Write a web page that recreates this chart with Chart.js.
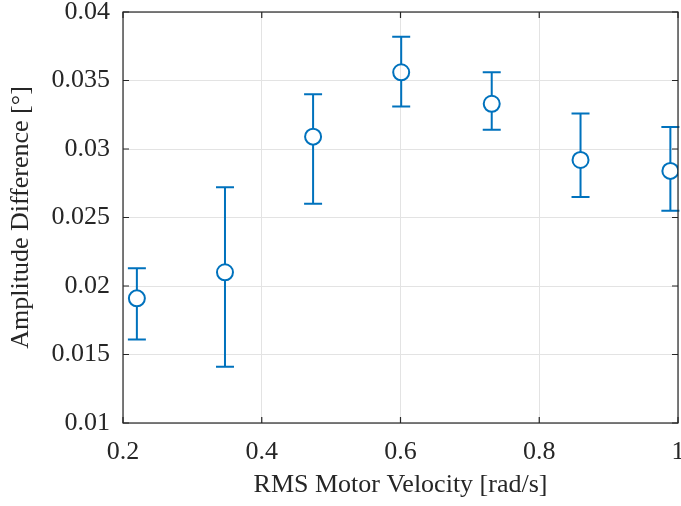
<!DOCTYPE html>
<html lang="en">
<head>
  <meta charset="UTF-8">
  <title>Amplitude Difference</title>
  <script src="https://cdn.jsdelivr.net/npm/chart.js"></script>
  <style>
    html, body {
      margin: 0;
      padding: 0;
      background: #ffffff;
      overflow: hidden;
    }
    .chart-container {
      width: 681px;
      height: 506px;
    }
  </style>
</head>
<body>

<div class="chart-container">
  <canvas id="ampChart" width="681" height="506"></canvas>
</div>

<script>
// values
const velocidad = [0.22, 0.347, 0.474, 0.601, 0.7315, 0.8595, 0.989];
const diferencia = [0.0191, 0.0210, 0.0309, 0.0356, 0.0333, 0.0292, 0.0284];
const errSuperior = [0.0213, 0.0272, 0.0340, 0.0382, 0.0356, 0.0326, 0.0316];
const errInferior = [0.0161, 0.0141, 0.0260, 0.0331, 0.0314, 0.0265, 0.0255];
const ticksX = [0.2, 0.4, 0.6, 0.8, 1];
const ticksY = [0.01, 0.015, 0.02, 0.025, 0.03, 0.035, 0.04];

const azul = '#0072BD';
const fuente = "'Liberation Serif', 'DejaVu Serif', serif";
const ejeColor = '#262626';

// error bars + inner ticks + box
const barrasError = {
  id: 'barrasError',
  afterDatasetsDraw(chart) {
    const ctx = chart.ctx;
    const x = chart.scales.x;
    const y = chart.scales.y;
    ctx.save();
    ctx.strokeStyle = azul;
    ctx.lineWidth = 2;
    velocidad.forEach((v, i) => {
      const px = x.getPixelForValue(v);
      const top = y.getPixelForValue(errSuperior[i]);
      const bot = y.getPixelForValue(errInferior[i]);
      const cen = y.getPixelForValue(diferencia[i]);
      const r = 8;
      ctx.beginPath();
      ctx.moveTo(px, top);
      ctx.lineTo(px, cen - r);
      ctx.moveTo(px, cen + r);
      ctx.lineTo(px, bot);
      ctx.moveTo(px - 9, top);
      ctx.lineTo(px + 9, top);
      ctx.moveTo(px - 9, bot);
      ctx.lineTo(px + 9, bot);
      ctx.stroke();
    });
    ctx.restore();

    const area = chart.chartArea;
    ctx.save();
    ctx.strokeStyle = ejeColor;
    ctx.lineWidth = 1.2;
    ctx.strokeRect(area.left, area.top, area.right - area.left, area.bottom - area.top);
    ctx.beginPath();
    ticksX.forEach(t => {
      const px = x.getPixelForValue(t);
      ctx.moveTo(px, area.bottom);
      ctx.lineTo(px, area.bottom - 6);
      ctx.moveTo(px, area.top);
      ctx.lineTo(px, area.top + 6);
    });
    ticksY.forEach(t => {
      const py = y.getPixelForValue(t);
      ctx.moveTo(area.left, py);
      ctx.lineTo(area.left + 6, py);
      ctx.moveTo(area.right, py);
      ctx.lineTo(area.right - 6, py);
    });
    ctx.stroke();
    ctx.restore();
  }
};

const chart = new Chart(document.getElementById('ampChart').getContext('2d'), {
  type: 'scatter',
  data: {
    datasets: [{
      data: velocidad.map((v, i) => ({ x: v, y: diferencia[i] })),
      borderColor: azul,
      backgroundColor: 'rgba(0,0,0,0)',
      borderWidth: 2,
      pointRadius: 8,
      pointHoverRadius: 8,
      pointStyle: 'circle'
    }]
  },
  options: {
    responsive: false,
    animation: false,
    devicePixelRatio: 1,
    layout: { autoPadding: false, padding: { top: 12, right: 3, left: 0, bottom: 0 } },
    plugins: {
      legend: { display: false },
      tooltip: { enabled: false }
    },
    scales: {
      x: {
        type: 'linear',
        min: 0.2,
        max: 1,
        afterBuildTicks: s => { s.ticks = ticksX.map(v => ({ value: v })); },
        afterFit: s => { s.height = 83; s.paddingLeft = 0; s.paddingRight = 0; },
        grid: { color: '#e3e3e3', lineWidth: 1, drawTicks: false },
        border: { display: false },
        ticks: {
          color: ejeColor,
          padding: 14,
          maxRotation: 0,
          font: { family: fuente, size: 26 },
          callback: v => String(Number(v.toFixed(3)))
        },
        title: {
          display: true,
          text: 'RMS Motor Velocity [rad/s]',
          color: ejeColor,
          font: { family: fuente, size: 26 },
          padding: { top: 4, bottom: 5 }
        }
      },
      y: {
        type: 'linear',
        min: 0.01,
        max: 0.04,
        afterBuildTicks: s => { s.ticks = ticksY.map(v => ({ value: v })); },
        afterFit: s => { s.width = 123; s.paddingTop = 0; s.paddingBottom = 0; },
        grid: { color: '#e3e3e3', lineWidth: 1, drawTicks: false },
        border: { display: false },
        ticks: {
          color: ejeColor,
          padding: 13,
          font: { family: fuente, size: 26 },
          callback: v => String(Number(v.toFixed(3)))
        },
        title: {
          display: true,
          text: 'Amplitude Difference [°]',
          color: ejeColor,
          font: { family: fuente, size: 26 },
          padding: { top: 6, bottom: 4 }
        }
      }
    }
  },
  plugins: [barrasError]
});
</script>

</body>
</html>
